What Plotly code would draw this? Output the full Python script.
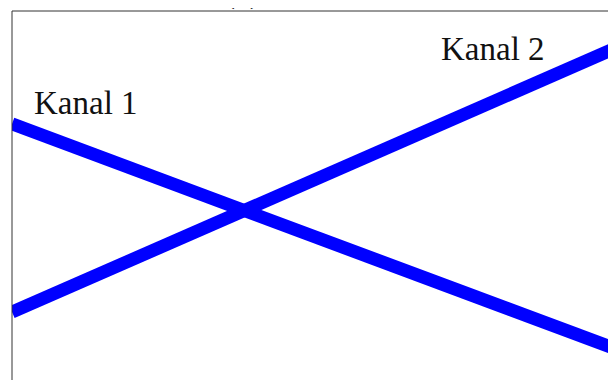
import plotly.graph_objects as go

# data
x_vals = [0.0, 1.0]
kanal_1 = [0.694, 0.084]
kanal_2 = [0.184, 0.900]
label_1 = "Kanal 1"
label_2 = "Kanal 2"
panel_title = "(a)"

fig = go.Figure()
for y_vals in (kanal_1, kanal_2):
    fig.add_trace(
        go.Scatter(
            x=x_vals,
            y=y_vals,
            mode="lines",
            line=dict(color="#0000ff", width=13),
            showlegend=False,
            hoverinfo="skip",
        )
    )

font = dict(family="Liberation Serif", size=33, color="#111111")
fig.add_annotation(x=0.033, y=0.752, xref="paper", yref="paper", text=label_1,
                   showarrow=False, xanchor="left", yanchor="middle", font=font)
fig.add_annotation(x=0.707, y=0.897, xref="paper", yref="paper", text=label_2,
                   showarrow=False, xanchor="left", yanchor="middle", font=font)
# panel title, mostly outside the visible crop
fig.add_annotation(x=0.381, y=0.997, xref="paper", yref="paper", text=panel_title,
                   showarrow=False, xanchor="center", yanchor="bottom", font=font)

# left and top frame lines only
fig.add_shape(type="line", xref="paper", yref="paper", x0=0, x1=0, y0=0, y1=1,
              line=dict(color="#333333", width=1))
fig.add_shape(type="line", xref="paper", yref="paper", x0=0, x1=1, y0=1, y1=1,
              line=dict(color="#333333", width=1))

fig.update_xaxes(range=[0, 1], visible=False, showgrid=False)
fig.update_yaxes(range=[0, 1], visible=False, showgrid=False)
fig.update_layout(
    width=616,
    height=372,
    margin=dict(l=4, r=8, t=3, b=0),
    plot_bgcolor="white",
    paper_bgcolor="white",
)

fig.write_html("out.html")
